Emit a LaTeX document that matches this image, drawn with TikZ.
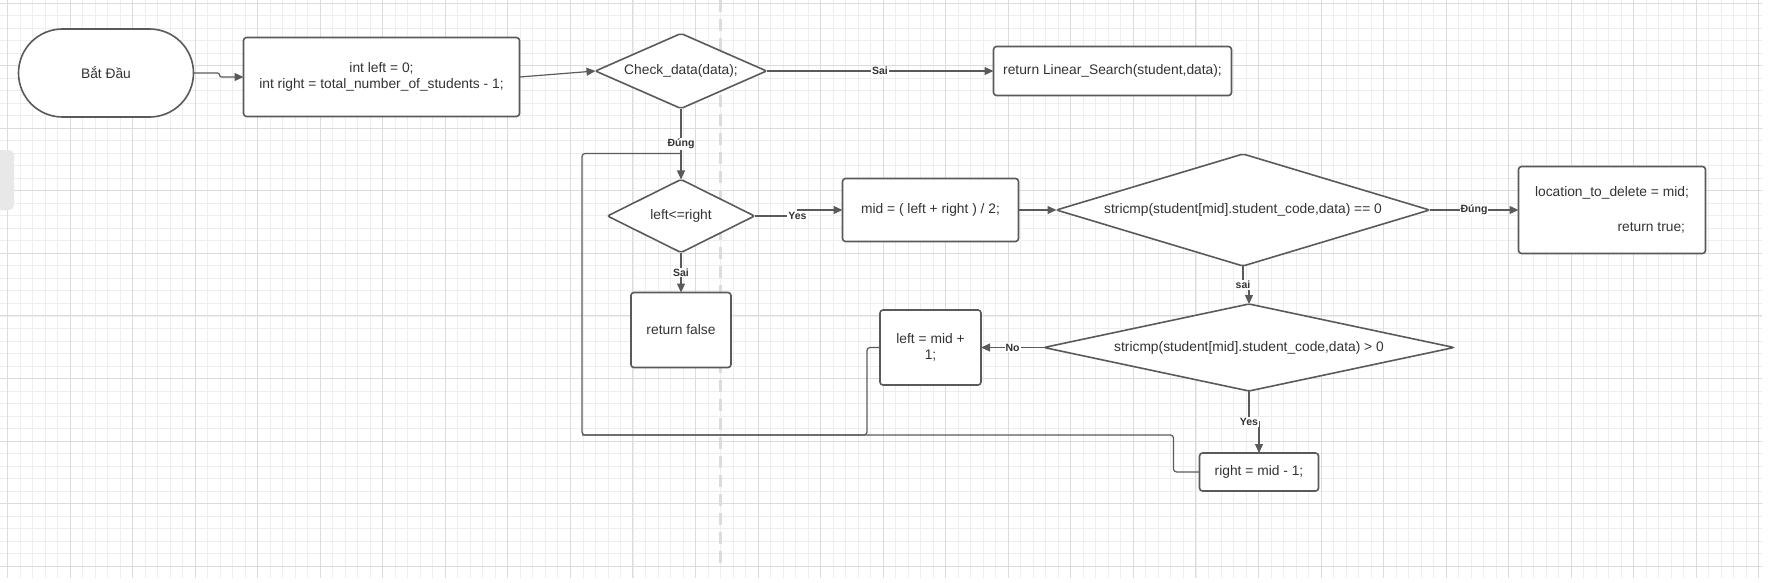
\documentclass[tikz,border=0pt]{standalone}
\usepackage{fontspec}
\setmainfont{Liberation Sans}
\usetikzlibrary{arrows.meta,positioning,shapes.geometric,calc}
\definecolor{linegray}{HTML}{5A5A5A}
\definecolor{textgray}{HTML}{333333}
\definecolor{gridminor}{HTML}{EEEEEE}
\definecolor{gridmajor}{HTML}{DCDCDC}

\begin{document}
\begin{tikzpicture}[x=1pt,y=1pt,
        mybox/.style={
            rectangle,
            rounded corners=3pt,
            draw=linegray,
            line width=1.6pt,
            fill=white,
            text=textgray,
            align=center,
            inner sep=0pt,
            outer sep=0pt,
            font=\fontsize{13.8}{16.5}\selectfont},
        myterm/.style={mybox, rounded corners=44pt},
        mydiamond/.style={
            diamond,
            rounded corners=2pt,
            draw=linegray,
            line width=1.6pt,
            fill=white,
            text=textgray,
            inner sep=0pt,
            outer sep=0pt,
            font=\fontsize{13.8}{16.5}\selectfont},
        mylabel/.style={fill=white, text=textgray, inner sep=1pt,
            font=\fontsize{10.5}{12}\selectfont\bfseries},
        myarrow/.style={-{Triangle[length=9pt,width=8pt]}, draw=linegray, line width=1.2pt},
        myline/.style={draw=linegray, line width=1.2pt, rounded corners=3pt}
        ]
        \useasboundingbox (0,0) rectangle (1768,-583);

        % canvas grid
        \begin{scope}
            \clip (0,0) rectangle (1762,-577);
            \foreach \i in {0,...,141}
                \draw[gridminor, line width=0.8pt] ({7.45+12.51*\i},0) -- ++(0,-583);
            \foreach \j in {0,...,46}
                \draw[gridminor, line width=0.8pt] (0,{-3.15-12.51*\j}) -- ++(1768,0);
            \foreach \i in {0,...,28}
                \draw[gridmajor, line width=1pt] ({7.45+62.55*\i},0) -- ++(0,-583);
            \foreach \j in {0,...,9}
                \draw[gridmajor, line width=1pt] (0,{-3.15-62.55*\j}) -- ++(1768,0);
        \end{scope}
        \draw[gridmajor, line width=3pt, dash pattern=on 12pt off 7pt] (720,0) -- (720,-565);
        \fill[gray!18, rounded corners=5pt] (-8,-150) rectangle (14,-210);

        \node[myterm, minimum width=175pt, minimum height=88pt] (start) at (106,-73) {Bắt Đầu};
        \node[mybox, minimum width=276pt, minimum height=79pt, right=50pt of start, yshift=-4pt] (init)
            {int left = 0;\\int right = total\_number\_of\_students - 1;};
        \node[mydiamond, aspect=2.28, minimum width=171pt, minimum height=75pt, right=76pt of init, yshift=6pt] (check) {Check\_data(data);};
        \node[mybox, minimum width=238pt, minimum height=49pt, right=227pt of check] (linear) {return Linear\_Search(student,data);};
        \node[mydiamond, aspect=2.01, minimum width=147pt, minimum height=73pt, below=71pt of check] (lr) {left<=right};
        \node[mybox, minimum width=100pt, minimum height=75pt, below=40pt of lr] (retf) {return false};
        \node[mybox, minimum width=176pt, minimum height=63pt, right=88pt of lr, yshift=6pt] (mid) {mid = ( left + right ) / 2;};
        \node[mydiamond, aspect=3.33, minimum width=373pt, minimum height=112pt, right=38pt of mid] (eq)
            {stricmp(student[mid].student\_code,data) == 0};
        \node[mybox, minimum width=187pt, minimum height=87pt, right=89pt of eq, align=right] (loc)
            {location\_to\_delete = mid;\\[18pt]return true;\ \ };
        \node[mydiamond, aspect=4.71, minimum width=410pt, minimum height=87pt, below=38pt of eq, xshift=6pt] (gt)
            {stricmp(student[mid].student\_code,data) > 0};
        \node[mybox, minimum width=101pt, minimum height=75pt, left=63pt of gt] (lplus) {left = mid +\\1;};
        \node[mybox, minimum width=119pt, minimum height=38pt, below=62pt of gt, xshift=10pt] (rminus) {right = mid - 1;};

        \foreach \i/\j/\txt in {% start node/end node/label
            check/linear/Sai,
            check/lr/Đúng,
            lr/retf/Sai,
            eq/loc/Đúng,
            gt/lplus/No}
            \draw[myarrow] (\i) -- node[mylabel] {\txt} (\j);

        \draw[myarrow, rounded corners=2pt] (start.east) -- ++(26pt,0) |- (init.west);
        \draw[myarrow] (init.east) -- (check.west);
        \draw[myarrow] (mid.east) -- (eq.west);
        \draw[myarrow] (lr.east) -- ++(43pt,0) node[mylabel] {Yes} |- (mid.west);
        \draw[myarrow] (eq.south) -- ++(0,-19pt) node[mylabel] {sai} -| (gt.north);
        \draw[myarrow] (gt.south) -- ++(0,-31pt) node[mylabel] {Yes} -| (rminus.north);

        % loop back to left<=right
        \coordinate (loopbot) at (582,-435);
        \coordinate (looptop) at ($(lr.north)+(0,26pt)$);
        \draw[myline] (lplus.west) -- ++(-13pt,0) |- (loopbot) |- (looptop);
        \draw[myline] (rminus.west) -- ++(-26pt,0) |- (loopbot);
\end{tikzpicture}
\end{document}
